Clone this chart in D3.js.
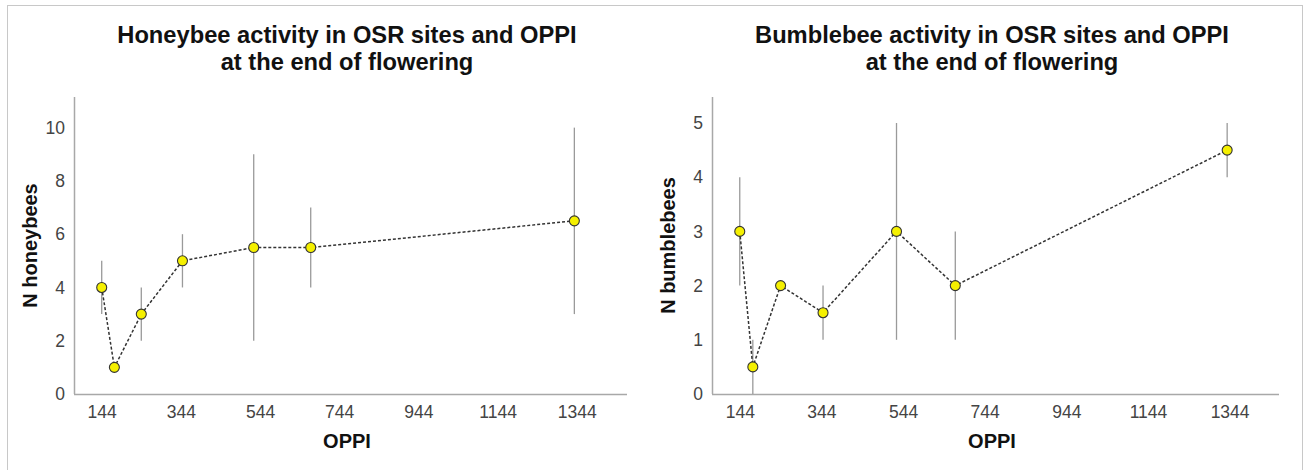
<!DOCTYPE html>
<html>
<head>
<meta charset="utf-8">
<script src="https://cdn.jsdelivr.net/npm/d3@7"></script>
<style>
  html, body { margin: 0; padding: 0; background: #fff; }
  svg { display: block; font-family: "Liberation Sans", Arial, sans-serif; }
</style>
</head>
<body>
<svg id="chart" width="1306" height="470"></svg>
<script>
// OPPI value of each site group
const oppi = [144, 176, 244, 348, 528, 672, 1338];
const xTicks = [144, 344, 544, 744, 944, 1144, 1344];

// Honeybees: mean and range per site group
const honeyMean = [4, 1, 3, 5, 5.5, 5.5, 6.5];
const honeyLow  = [3, 1, 2, 4, 2, 4, 3];
const honeyHigh = [5, 1, 4, 6, 9, 7, 10];
const honeyTicks = [0, 2, 4, 6, 8, 10];

// Bumblebees: mean and range per site group
const bumbleMean = [3, 0.5, 2, 1.5, 3, 2, 4.5];
const bumbleLow  = [2, 0, 2, 1, 1, 1, 4];
const bumbleHigh = [4, 1, 2, 2, 5, 3, 5];
const bumbleTicks = [0, 1, 2, 3, 4, 5];

const svg = d3.select("#chart");

// outer frame
svg.append("rect")
  .attr("x", 7.5).attr("y", 5.5)
  .attr("width", 1295).attr("height", 480)
  .attr("fill", "none").attr("stroke", "#c8c8c8").attr("stroke-width", 1);

function panel(opts) {
  const g = svg.append("g");
  const x = d3.scaleLinear().domain(opts.xDomain).range([opts.left, opts.right]);
  const y = d3.scaleLinear().domain(opts.yDomain).range([opts.bottom, opts.top]);

  // two-line title
  opts.title.forEach((line, i) => {
    g.append("text").attr("x", opts.titleX).attr("y", 43 + i * 27)
      .attr("text-anchor", "middle").attr("font-size", 23.7).attr("font-weight", "bold")
      .attr("fill", "#111").text(line);
  });

  // axis lines
  const axisColor = "#a8a8a8";
  g.append("line")
    .attr("x1", x.range()[0] + 0.5).attr("x2", x.range()[0] + 0.5)
    .attr("y1", y.range()[1]).attr("y2", y.range()[0])
    .attr("stroke", axisColor).attr("stroke-width", 1.5);
  g.append("line")
    .attr("x1", x.range()[0]).attr("x2", x.range()[1])
    .attr("y1", y.range()[0] + 0.5).attr("y2", y.range()[0] + 0.5)
    .attr("stroke", axisColor).attr("stroke-width", 1.5);

  // tick labels
  const yAxis = d3.axisLeft(y).tickValues(opts.yTicks).tickSize(0).tickPadding(9).tickFormat(d3.format("d"));
  const ya = g.append("g").attr("transform", `translate(${x.range()[0]},0)`).call(yAxis);
  ya.select(".domain").remove();
  ya.selectAll("text").attr("font-size", 17.5).attr("fill", "#444")
    .attr("font-family", "'Liberation Sans', Arial, sans-serif");

  const xAxis = d3.axisBottom(x).tickValues(xTicks).tickSize(0).tickPadding(12).tickFormat(d3.format("d"));
  const xa = g.append("g").attr("transform", `translate(0,${y.range()[0]})`).call(xAxis);
  xa.select(".domain").remove();
  xa.selectAll("text").attr("font-size", 17.5).attr("fill", "#444")
    .attr("font-family", "'Liberation Sans', Arial, sans-serif");

  // axis titles
  g.append("text")
    .attr("transform", `translate(${opts.yTitleX},${(y.range()[0] + y.range()[1]) / 2}) rotate(-90)`)
    .attr("text-anchor", "middle").attr("font-size", 20).attr("font-weight", "bold")
    .attr("fill", "#111").text(opts.yTitle);
  g.append("text").attr("x", opts.titleX).attr("y", 448)
    .attr("text-anchor", "middle").attr("font-size", 20).attr("font-weight", "bold")
    .attr("fill", "#111").text("OPPI");

  const rows = oppi.map((v, i) => ({ x: v, m: opts.mean[i], lo: opts.low[i], hi: opts.high[i] }));

  // range bars
  g.selectAll(".bar").data(rows.filter(d => d.hi > d.lo)).join("line")
    .attr("x1", d => x(d.x)).attr("x2", d => x(d.x))
    .attr("y1", d => y(d.lo)).attr("y2", d => y(d.hi))
    .attr("stroke", "#9a9a9a").attr("stroke-width", 1.3);

  // dashed line through the means
  g.append("path").datum(rows)
    .attr("d", d3.line().x(d => x(d.x)).y(d => y(d.m)))
    .attr("fill", "none").attr("stroke", "#333").attr("stroke-width", 1.5)
    .attr("stroke-dasharray", "3,2");

  // markers
  g.selectAll(".pt").data(rows).join("circle")
    .attr("cx", d => x(d.x)).attr("cy", d => y(d.m)).attr("r", 5)
    .attr("fill", "#f5f000").attr("stroke", "#333").attr("stroke-width", 1.1);
}

panel({
  title: ["Honeybee activity in OSR sites and OPPI", "at the end of flowering"],
  titleX: 347,
  yTitle: "N honeybees",
  yTitleX: 37,
  left: 74, right: 627, top: 97, bottom: 394,
  xDomain: [74, 1471],
  yDomain: [0, 11.15],
  yTicks: honeyTicks,
  mean: honeyMean, low: honeyLow, high: honeyHigh
});

panel({
  title: ["Bumblebee activity in OSR sites and OPPI", "at the end of flowering"],
  titleX: 992,
  yTitle: "N bumblebees",
  yTitleX: 675,
  left: 712, right: 1279, top: 97, bottom: 394,
  xDomain: [76, 1465],
  yDomain: [0, 5.48],
  yTicks: bumbleTicks,
  mean: bumbleMean, low: bumbleLow, high: bumbleHigh
});
</script>
</body>
</html>
